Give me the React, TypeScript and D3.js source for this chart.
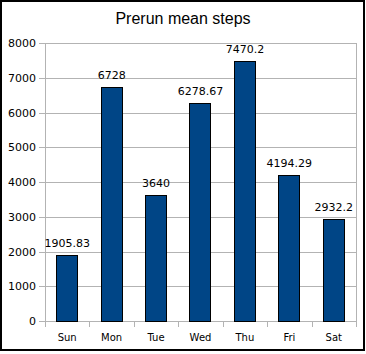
import { useEffect, useRef } from 'react';
import * as d3 from 'd3';

const days = ['Sun', 'Mon', 'Tue', 'Wed', 'Thu', 'Fri', 'Sat'];
const steps = [1905.83, 6728, 3640, 6278.67, 7470.2, 4194.29, 2932.2];
const yTicks = [0, 1000, 2000, 3000, 4000, 5000, 6000, 7000, 8000];

export default function App() {
  const ref = useRef<SVGSVGElement | null>(null);
  useEffect(() => {
    const svg = d3.select(ref.current!);
    svg.selectAll('*').remove();
    const W = 366, H = 354;
    const left = 45, right = 356, top = 43, bottom = 321;
    const font = 'DejaVu Sans, sans-serif';

    svg.append('rect').attr('x', 0).attr('y', 0).attr('width', W).attr('height', H).attr('fill', 'white');
    // outer frame
    svg.append('rect').attr('x', 1).attr('y', 1).attr('width', 363).attr('height', 349)
      .attr('fill', 'none').attr('stroke', 'black').attr('stroke-width', 2);

    svg.append('text').attr('x', 183).attr('y', 24).attr('text-anchor', 'middle')
      .attr('font-family', 'Liberation Sans, Arial, sans-serif').attr('font-size', 16).attr('fill', '#000')
      .text('Prerun mean steps');

    const x = d3.scaleBand<string>().domain(days).range([left, right]).paddingInner(0.5).paddingOuter(0.25);
    const y = d3.scaleLinear().domain([0, 8000]).range([bottom, top]);

    const g = svg.append('g');
    g.selectAll('.grid').data(yTicks).enter().append('line')
      .attr('x1', left - 6).attr('x2', right).attr('y1', (d) => Math.round(y(d)) + 0.5).attr('y2', (d) => Math.round(y(d)) + 0.5)
      .attr('stroke', '#b3b3b3').attr('stroke-width', 1);
    g.append('line').attr('x1', left + 0.5).attr('x2', left + 0.5).attr('y1', top).attr('y2', bottom + 6)
      .attr('stroke', '#b3b3b3');
    g.append('line').attr('x1', right + 0.5).attr('x2', right + 0.5).attr('y1', top).attr('y2', bottom + 6)
      .attr('stroke', '#b3b3b3');
    const step = x.step();
    g.selectAll('.ctick').data(days.slice(1)).enter().append('line')
      .attr('x1', (d) => Math.round((x(d) ?? 0) - step * 0.25) + 0.5).attr('x2', (d) => Math.round((x(d) ?? 0) - step * 0.25) + 0.5)
      .attr('y1', bottom).attr('y2', bottom + 6).attr('stroke', '#b3b3b3');

    g.selectAll('.ylab').data(yTicks).enter().append('text')
      .attr('x', 36).attr('y', (d) => y(d) + 4).attr('text-anchor', 'end')
      .attr('font-family', font).attr('font-size', 11).attr('fill', '#000').text((d) => d);

    g.selectAll('.xlab').data(days).enter().append('text')
      .attr('x', (d) => (x(d) ?? 0) + x.bandwidth() / 2).attr('y', 341).attr('text-anchor', 'middle')
      .attr('font-family', font).attr('font-size', 10).attr('fill', '#000').text((d) => d);

    g.selectAll('.bar').data(steps).enter().append('rect')
      .attr('x', (_, i) => Math.round(x(days[i]) ?? 0) + 0.5).attr('y', (d) => Math.round(y(d)) + 0.5)
      .attr('width', Math.round(x.bandwidth()) - 1).attr('height', (d) => Math.round(bottom - y(d)))
      .attr('fill', '#004586').attr('stroke', '#000').attr('stroke-width', 1);

    g.selectAll('.vlab').data(steps).enter().append('text')
      .attr('x', (_, i) => (x(days[i]) ?? 0) + x.bandwidth() / 2).attr('y', (d) => y(d) - 8).attr('text-anchor', 'middle')
      .attr('font-family', font).attr('font-size', 11).attr('fill', '#000').text((d) => String(d));
  }, []);
  return <svg ref={ref} width={366} height={354} style={{ display: 'block', position: 'absolute', left: 0, top: 0 }} />;
}
